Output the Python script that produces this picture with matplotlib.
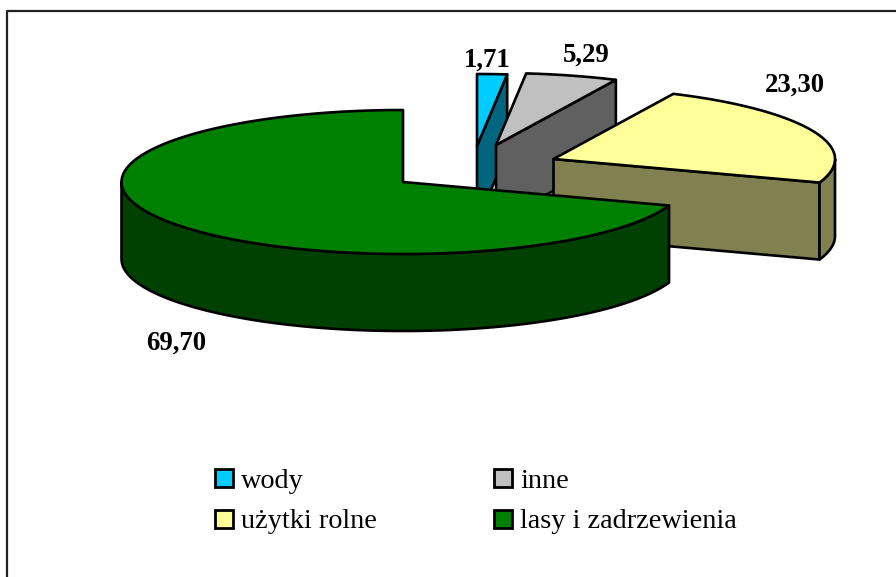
# -*- coding: utf-8 -*-
import numpy as np
import matplotlib
matplotlib.use('Agg')
import matplotlib.pyplot as plt
from matplotlib.patches import Polygon, Rectangle

plt.rcParams['font.family'] = ['Liberation Serif', 'DejaVu Serif']

#%% data
categories = ['wody', 'inne', 'użytki rolne', 'lasy i zadrzewienia']
values = [1.71, 5.29, 23.30, 69.70]
value_labels = ['1,71', '5,29', '23,30', '69,70']

#%% style and layout (pixels of the picture)
top_colors = ['#00CCFF', '#C0C0C0', '#FFFF99', '#008000']
side_colors = ['#006680', '#606060', '#808050', '#004000']
tips = [(477, 146), (496, 145), (553.5, 159), (403, 182)]
label_pos = [(487, 60.5), (586, 55), (795, 85), (176, 343)]
legend_pos = [(215, 469), (494, 469), (215, 510), (494, 510)]
rx, ry = 281.5, 72
depth = 77
lw = 1.9


def rim(tip, a0, a1, n=100):
    # points of the outer edge, angles clockwise from 12 o'clock in degrees
    a = np.radians(np.linspace(a0, a1, n))
    return np.column_stack((tip[0] + rx*np.sin(a), tip[1] - ry*np.cos(a)))


def shape(ax, pts, color, z):
    ax.add_patch(Polygon(pts, closed=True, facecolor=color, edgecolor='k',
                         linewidth=lw, joinstyle='round', zorder=z))


fig = plt.figure(figsize=(8.96, 5.77), dpi=100)
ax = fig.add_axes([0, 0, 1, 1])
ax.set_xlim(0, 896)
ax.set_ylim(577, 0)
ax.axis('off')

# frame, only the left and top edges are inside the picture
ax.plot([7, 7, 900], [581, 10.5, 10.5], color='#222222', linewidth=1.6, zorder=1)

#%% slices, back to front
start = 0.
for i in range(len(values)):
    end = start + 360.*values[i]/sum(values)
    tip = np.array(tips[i], dtype=float)
    down = np.array([0, depth])
    z = 2 + i*3

    # cut face on the front side of the slice
    if end < 180:
        p = rim(tip, end, end, 1)[0]
        shape(ax, [tip, p, p + down, tip + down], side_colors[i], z)

    # outer wall, only the part between 90 and 270 degrees can be seen
    a0, a1 = max(start, 90.), min(end, 270.)
    if a1 > a0:
        edge = rim(tip, a0, a1)
        shape(ax, np.vstack((edge, (edge + down)[::-1])), side_colors[i], z + 1)

    # top of the slice
    shape(ax, np.vstack((tip, rim(tip, start, end))), top_colors[i], z + 2)
    start = end

#%% labels
for i in range(len(values)):
    ax.text(label_pos[i][0], label_pos[i][1], value_labels[i], fontsize=19.3,
            fontweight='bold', ha='center', va='center', zorder=20)

#%% legend
for i in range(len(categories)):
    x, y = legend_pos[i]
    ax.add_patch(Rectangle((x, y), 18, 18, facecolor=top_colors[i], edgecolor='k',
                           linewidth=2, zorder=20))
    ax.text(x + 26, y + 12, categories[i], fontsize=20.3, ha='left', va='center',
            zorder=20)

fig.savefig('out.png', dpi=100)
